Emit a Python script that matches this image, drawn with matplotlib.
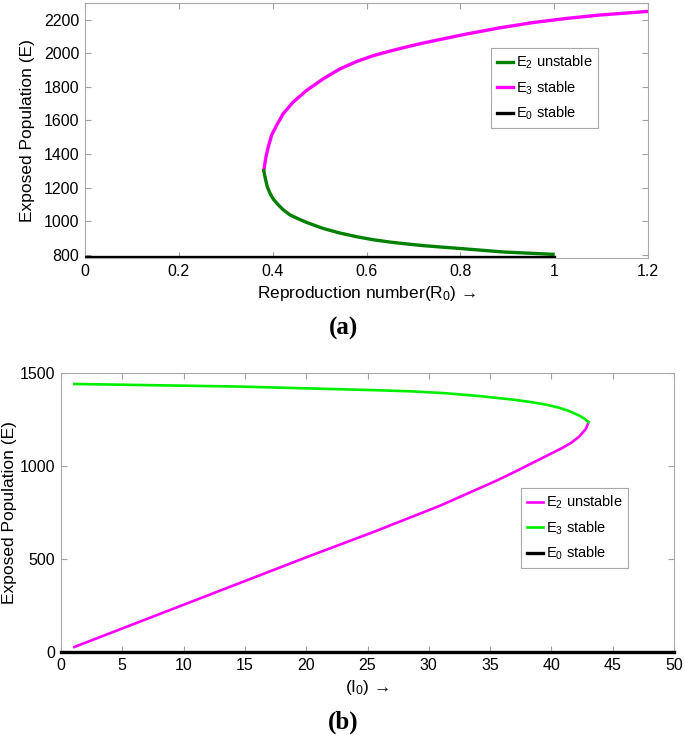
import matplotlib
matplotlib.use("Agg")
import matplotlib.pyplot as plt

plt.rcParams['font.family'] = ['Liberation Sans', 'DejaVu Sans']
plt.rcParams['mathtext.default'] = 'regular'

# ---- Panel (a): E vs R0 ----
r0_e3 = [0.381, 0.3857, 0.3907, 0.3978, 0.4085, 0.4226, 0.4439, 0.4723, 0.5077, 0.5432,
         0.5787, 0.6141, 0.6496, 0.685, 0.7204, 0.756, 0.813, 0.884, 0.954, 1.026, 1.096, 1.2]
e3_a = [1301, 1383, 1443, 1512, 1571, 1641, 1710, 1779, 1848, 1907,
        1951, 1986, 2013, 2038, 2061, 2082, 2115, 2152, 2183, 2208, 2228, 2250]
r0_e2 = [0.381, 0.3843, 0.3885, 0.3943, 0.4013, 0.4119, 0.4226, 0.4368, 0.451, 0.4723,
         0.5077, 0.5432, 0.5787, 0.614, 0.6496, 0.685, 0.7204, 0.756, 0.798, 0.891, 0.997]
e2_a = [1301, 1255, 1205, 1166, 1131, 1097, 1067, 1037, 1018, 992,
        956, 929, 907, 889, 875, 864, 854, 846, 837, 816, 802]
r0_e0 = [0.0, 1.0]
e0_a = [785, 785]
xticks_a = [0, 0.2, 0.4, 0.6, 0.8, 1.0, 1.2]
xticklabels_a = ['0', '0.2', '0.4', '0.6', '0.8', '1', '1.2']
yticks_a = [800, 1000, 1200, 1400, 1600, 1800, 2000, 2200]

# ---- Panel (b): E vs I0 ----
i0_e3 = [1.09, 14.58, 25.98, 28.70, 31.42, 34.13, 36.84, 38.2, 39.56, 40.64,
         41.46, 42.27, 42.68, 43.03]
e3_b = [1441, 1427, 1407, 1401, 1391, 1376, 1357, 1345, 1330, 1313,
        1295, 1271, 1255, 1236]
i0_e2 = [1.09, 10.0, 20.0, 25.4, 30.9, 35.48, 36.84, 38.2, 39.56, 40.91,
         41.6, 42.27, 42.82, 43.03]
e2_b = [27, 254, 509, 643, 786, 920, 963, 1008, 1053, 1098,
        1124, 1158, 1200, 1236]
i0_e0 = [0, 50]
e0_b = [0, 0]
xticks_b = [0, 5, 10, 15, 20, 25, 30, 35, 40, 45, 50]
yticks_b = [0, 500, 1000, 1500]

fig = plt.figure(figsize=(6.85, 7.39), dpi=100)

def style(ax):
    for s in ax.spines.values():
        s.set_color('#a8a8a8')
        s.set_linewidth(0.8)
    ax.tick_params(direction='in', top=True, right=True, labelsize=11.5,
                   color='#a0a0a0', length=4, width=0.8, pad=4)

# Panel a
ax1 = fig.add_axes([85/685, 1-258/739, (648-85)/685, (258-3)/739])
ax1.plot(r0_e3, e3_a, color='#ff00ff', lw=2.4, label='E$_3$ stable', zorder=3,
         solid_joinstyle='round')
ax1.plot(r0_e2, e2_a, color='#008000', lw=2.4, label='E$_2$ unstable', zorder=3,
         solid_joinstyle='round')
ax1.plot(r0_e0, e0_a, color='black', lw=2.4, label='E$_0$ stable', zorder=3)
ax1.set_xlim(0, 1.2)
ax1.set_ylim(780, 2300)
ax1.set_xticks(xticks_a)
ax1.set_xticklabels(xticklabels_a)
ax1.set_yticks(yticks_a)
style(ax1)
ax1.set_xlabel('Reproduction number(R$_0$) →', fontsize=12.5)
ax1.set_ylabel('Exposed Population (E)', fontsize=12.5, labelpad=6)
h, l = ax1.get_legend_handles_labels()
order = [1, 0, 2]
leg1 = ax1.legend([h[i] for i in order], [l[i] for i in order], loc='upper left',
                  bbox_to_anchor=((491-85)/563, 1-(48-3)/255), fontsize=10.5,
                  handlelength=1.1, handletextpad=0.2, borderpad=0.4,
                  labelspacing=0.55, fancybox=False, framealpha=1, borderaxespad=0)
leg1.get_frame().set_edgecolor('#a8a8a8')
leg1.get_frame().set_linewidth(0.8)
fig.text(343/685, 1-328/739, '(a)', ha='center', va='center', fontsize=18,
         fontweight='bold', family='Liberation Serif')

# Panel b
ax2 = fig.add_axes([61/685, 1-652/739, (674-61)/685, (652-373)/739])
ax2.plot(i0_e2, e2_b, color='#ff00ff', lw=1.9, label='E$_2$ unstable', zorder=3,
         solid_joinstyle='round')
ax2.plot(i0_e3, e3_b, color='#00ee00', lw=1.9, label='E$_3$ stable', zorder=3,
         solid_joinstyle='round')
ax2.plot(i0_e0, e0_b, color='black', lw=2.4, label='E$_0$ stable', zorder=3, clip_on=False)
ax2.set_xlim(0, 50)
ax2.set_ylim(0, 1500)
ax2.set_xticks(xticks_b)
ax2.set_yticks(yticks_b)
style(ax2)
ax2.set_xlabel('(I$_0$) →', fontsize=12.5)
ax2.set_ylabel('Exposed Population (E)', fontsize=12.5, labelpad=2)
leg2 = ax2.legend(loc='upper left', bbox_to_anchor=((521-61)/613, 1-(488-373)/279),
                  fontsize=10.5, handlelength=1.1, handletextpad=0.2, borderpad=0.4,
                  labelspacing=0.55, fancybox=False, framealpha=1, borderaxespad=0)
leg2.get_frame().set_edgecolor('#a8a8a8')
leg2.get_frame().set_linewidth(0.8)
fig.text(343/685, 1-722/739, '(b)', ha='center', va='center', fontsize=18,
         fontweight='bold', family='Liberation Serif')

fig.savefig('out.png', dpi=100)
